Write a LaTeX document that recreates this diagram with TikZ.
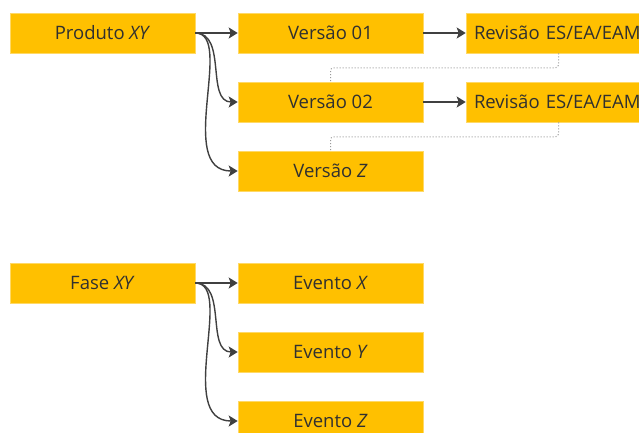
\documentclass[tikz,border=0pt]{standalone}
\usepackage{fontspec}
\setmainfont{Open Sans}
\usetikzlibrary{positioning,arrows.meta}
\definecolor{caixa}{HTML}{FFC000}
\definecolor{texto}{HTML}{303030}
\definecolor{seta}{HTML}{404040}
\definecolor{ponto}{HTML}{9A9A9A}

\begin{document}
\begin{tikzpicture}[x=1pt,y=-1pt,
  caixa/.style={fill=caixa,draw=caixa!60!white,line width=0.6pt,minimum width=185pt,minimum height=40pt,
    inner sep=0pt,text=texto,font=\fontsize{18.5}{22}\selectfont},
  revisao/.style={caixa,text width=169pt,align=left},
  liga/.style={draw=seta,line width=1.4pt,-{Stealth[length=9pt,width=11pt,inset=2pt]}},
  pontilhado/.style={draw=ponto,line width=1pt,dotted,rounded corners=3pt}]
\clip (0,0) rectangle (639,432);
\fill[white] (0,0) rectangle (639,432);

% produto e versoes
\node[caixa] (prod) at (102.5,33) {Produto \textit{XY}};
\node[caixa] (v1) at (330.5,33) {Versão 01};
\node[caixa] (v2) at (330.5,102) {Versão 02};
\node[caixa] (vz) at (330.5,171) {Versão \textit{Z}};
\node[revisao] (r1) at (558.5,33) {Revisão ES/EA/EAM};
\node[revisao] (r2) at (558.5,102) {Revisão ES/EA/EAM};

\draw[liga] (prod.east) -- (v1.west);
\draw[liga] (prod.east) .. controls +(32,0) and +(-32,0) .. (v2.west);
\draw[liga] (prod.east) .. controls +(40,0) and +(-63,0) .. (vz.west);
\draw[liga] (v1.east) -- (r1.west);
\draw[liga] (v2.east) -- (r2.west);
\draw[pontilhado] (r1.south) -- ++(0,14.5) -| (v2.north);
\draw[pontilhado] (r2.south) -- ++(0,14.5) -| (vz.north);

% fase e eventos
\node[caixa] (fase) at (102.5,283) {Fase \textit{XY}};
\node[caixa] (ex) at (330.5,283) {Evento \textit{X}};
\node[caixa] (ey) at (330.5,352) {Evento \textit{Y}};
\node[caixa] (ez) at (330.5,421) {Evento \textit{Z}};

\draw[liga] (fase.east) -- (ex.west);
\draw[liga] (fase.east) .. controls +(32,0) and +(-32,0) .. (ey.west);
\draw[liga] (fase.east) .. controls +(40,0) and +(-63,0) .. (ez.west);
\end{tikzpicture}
\end{document}
